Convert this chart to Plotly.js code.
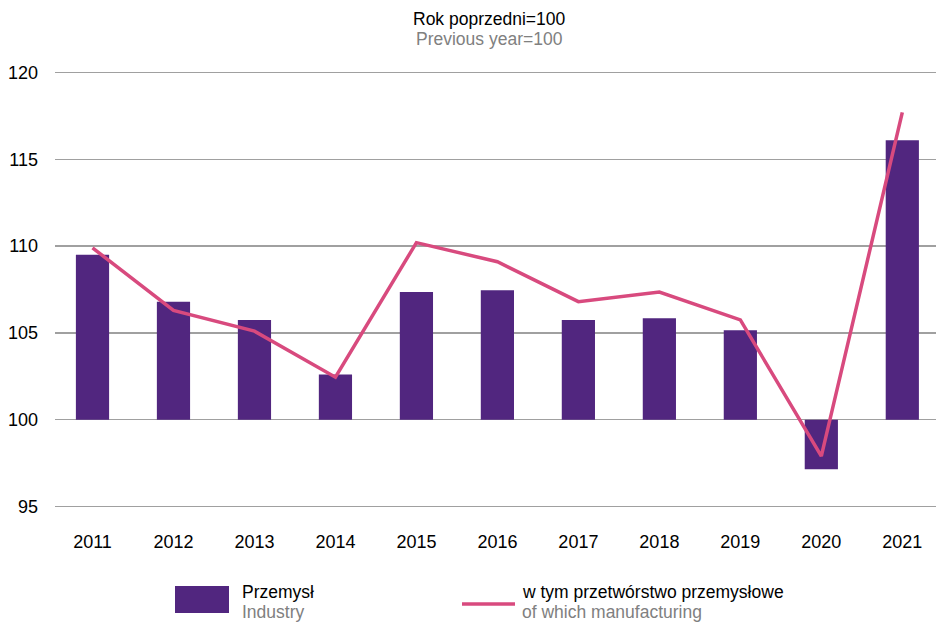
<!DOCTYPE html>
<html>
<head>
<meta charset="utf-8">
<script src="https://cdn.plot.ly/plotly-3.0.1.min.js"></script>
<style>html,body{margin:0;padding:0;background:#fff;}#chart{width:936px;height:622px;}</style>
</head>
<body>
<div id="chart"></div>
<script>
const years = ['2011','2012','2013','2014','2015','2016','2017','2018','2019','2020','2021'];
const industry = [109.5, 106.8, 105.75, 102.6, 107.35, 107.45, 105.75, 105.85, 105.15, 97.15, 116.1];
const manufacturing = [109.9, 106.3, 105.1, 102.45, 110.2, 109.1, 106.8, 107.35, 105.75, 97.9, 117.7];
const yTicks = [95, 100, 105, 110, 115, 120];
const barColor = '#51267f';
const lineColor = '#d84a7e';
const font = 'Liberation Sans, Arial, sans-serif';

const traces = [
  {
    type: 'bar', x: years, y: industry.map(v => v - 100), base: 100,
    marker: {color: barColor}, width: 0.41, showlegend: false, hoverinfo: 'skip'
  },
  {
    type: 'scatter', mode: 'lines', x: years, y: manufacturing,
    line: {color: lineColor, width: 3.5}, showlegend: false, hoverinfo: 'skip'
  }
];

// plot area: top 71px, bottom 508px (height 437)
const T = 71, B = 508, H = B - T, L = 55, W = 881;
const py = (pix) => (B - pix) / H;
const px = (pix) => (pix - L) / W;

const layout = {
  width: 936, height: 622,
  margin: {l: L, r: 0, t: T, b: 622 - B},
  paper_bgcolor: '#fff', plot_bgcolor: '#fff',
  font: {family: font, size: 18, color: '#000'},
  xaxis: {
    type: 'category', range: [-0.463, 10.416], showgrid: false, zeroline: false,
    showline: false, ticks: '', ticklabelstandoff: 21,
    tickfont: {family: font, size: 18, color: '#000'}
  },
  yaxis: {
    range: [94.914, 120.086], tickvals: yTicks, ticktext: yTicks.map(String),
    showgrid: true, gridcolor: '#a0a0a0', gridwidth: 1.5, zeroline: false,
    showline: false, ticks: '', ticklabelstandoff: 16,
    tickfont: {family: font, size: 18, color: '#000'}
  },
  showlegend: false,
  annotations: [
    {xref: 'paper', yref: 'paper', x: px(489), y: py(18.8), text: 'Rok poprzedni=100',
     showarrow: false, xanchor: 'center', yanchor: 'middle', font: {family: font, size: 17.5, color: '#000'}},
    {xref: 'paper', yref: 'paper', x: px(489), y: py(38.6), text: 'Previous year=100',
     showarrow: false, xanchor: 'center', yanchor: 'middle', font: {family: font, size: 17.5, color: '#808080'}},
    {xref: 'paper', yref: 'paper', x: px(240), y: py(592.3), text: 'Przemysł',
     showarrow: false, xanchor: 'left', yanchor: 'middle', font: {family: font, size: 17.5, color: '#000'}},
    {xref: 'paper', yref: 'paper', x: px(240), y: py(612.1), text: 'Industry',
     showarrow: false, xanchor: 'left', yanchor: 'middle', font: {family: font, size: 17.5, color: '#808080'}},
    {xref: 'paper', yref: 'paper', x: px(520), y: py(592.3), text: 'w tym przetwórstwo przemysłowe',
     showarrow: false, xanchor: 'left', yanchor: 'middle', font: {family: font, size: 17.5, color: '#000'}},
    {xref: 'paper', yref: 'paper', x: px(520), y: py(612.1), text: 'of which manufacturing',
     showarrow: false, xanchor: 'left', yanchor: 'middle', font: {family: font, size: 17.5, color: '#808080'}}
  ],
  shapes: [
    {type: 'rect', xref: 'paper', yref: 'paper', x0: px(175), x1: px(229),
     y0: py(586), y1: py(613), fillcolor: barColor, line: {width: 0}},
    {type: 'line', xref: 'paper', yref: 'paper', x0: px(462), x1: px(515),
     y0: py(604), y1: py(604), line: {color: lineColor, width: 3.5}}
  ]
};

Plotly.newPlot('chart', traces, layout, {staticPlot: true, displayModeBar: false});
</script>
</body>
</html>
